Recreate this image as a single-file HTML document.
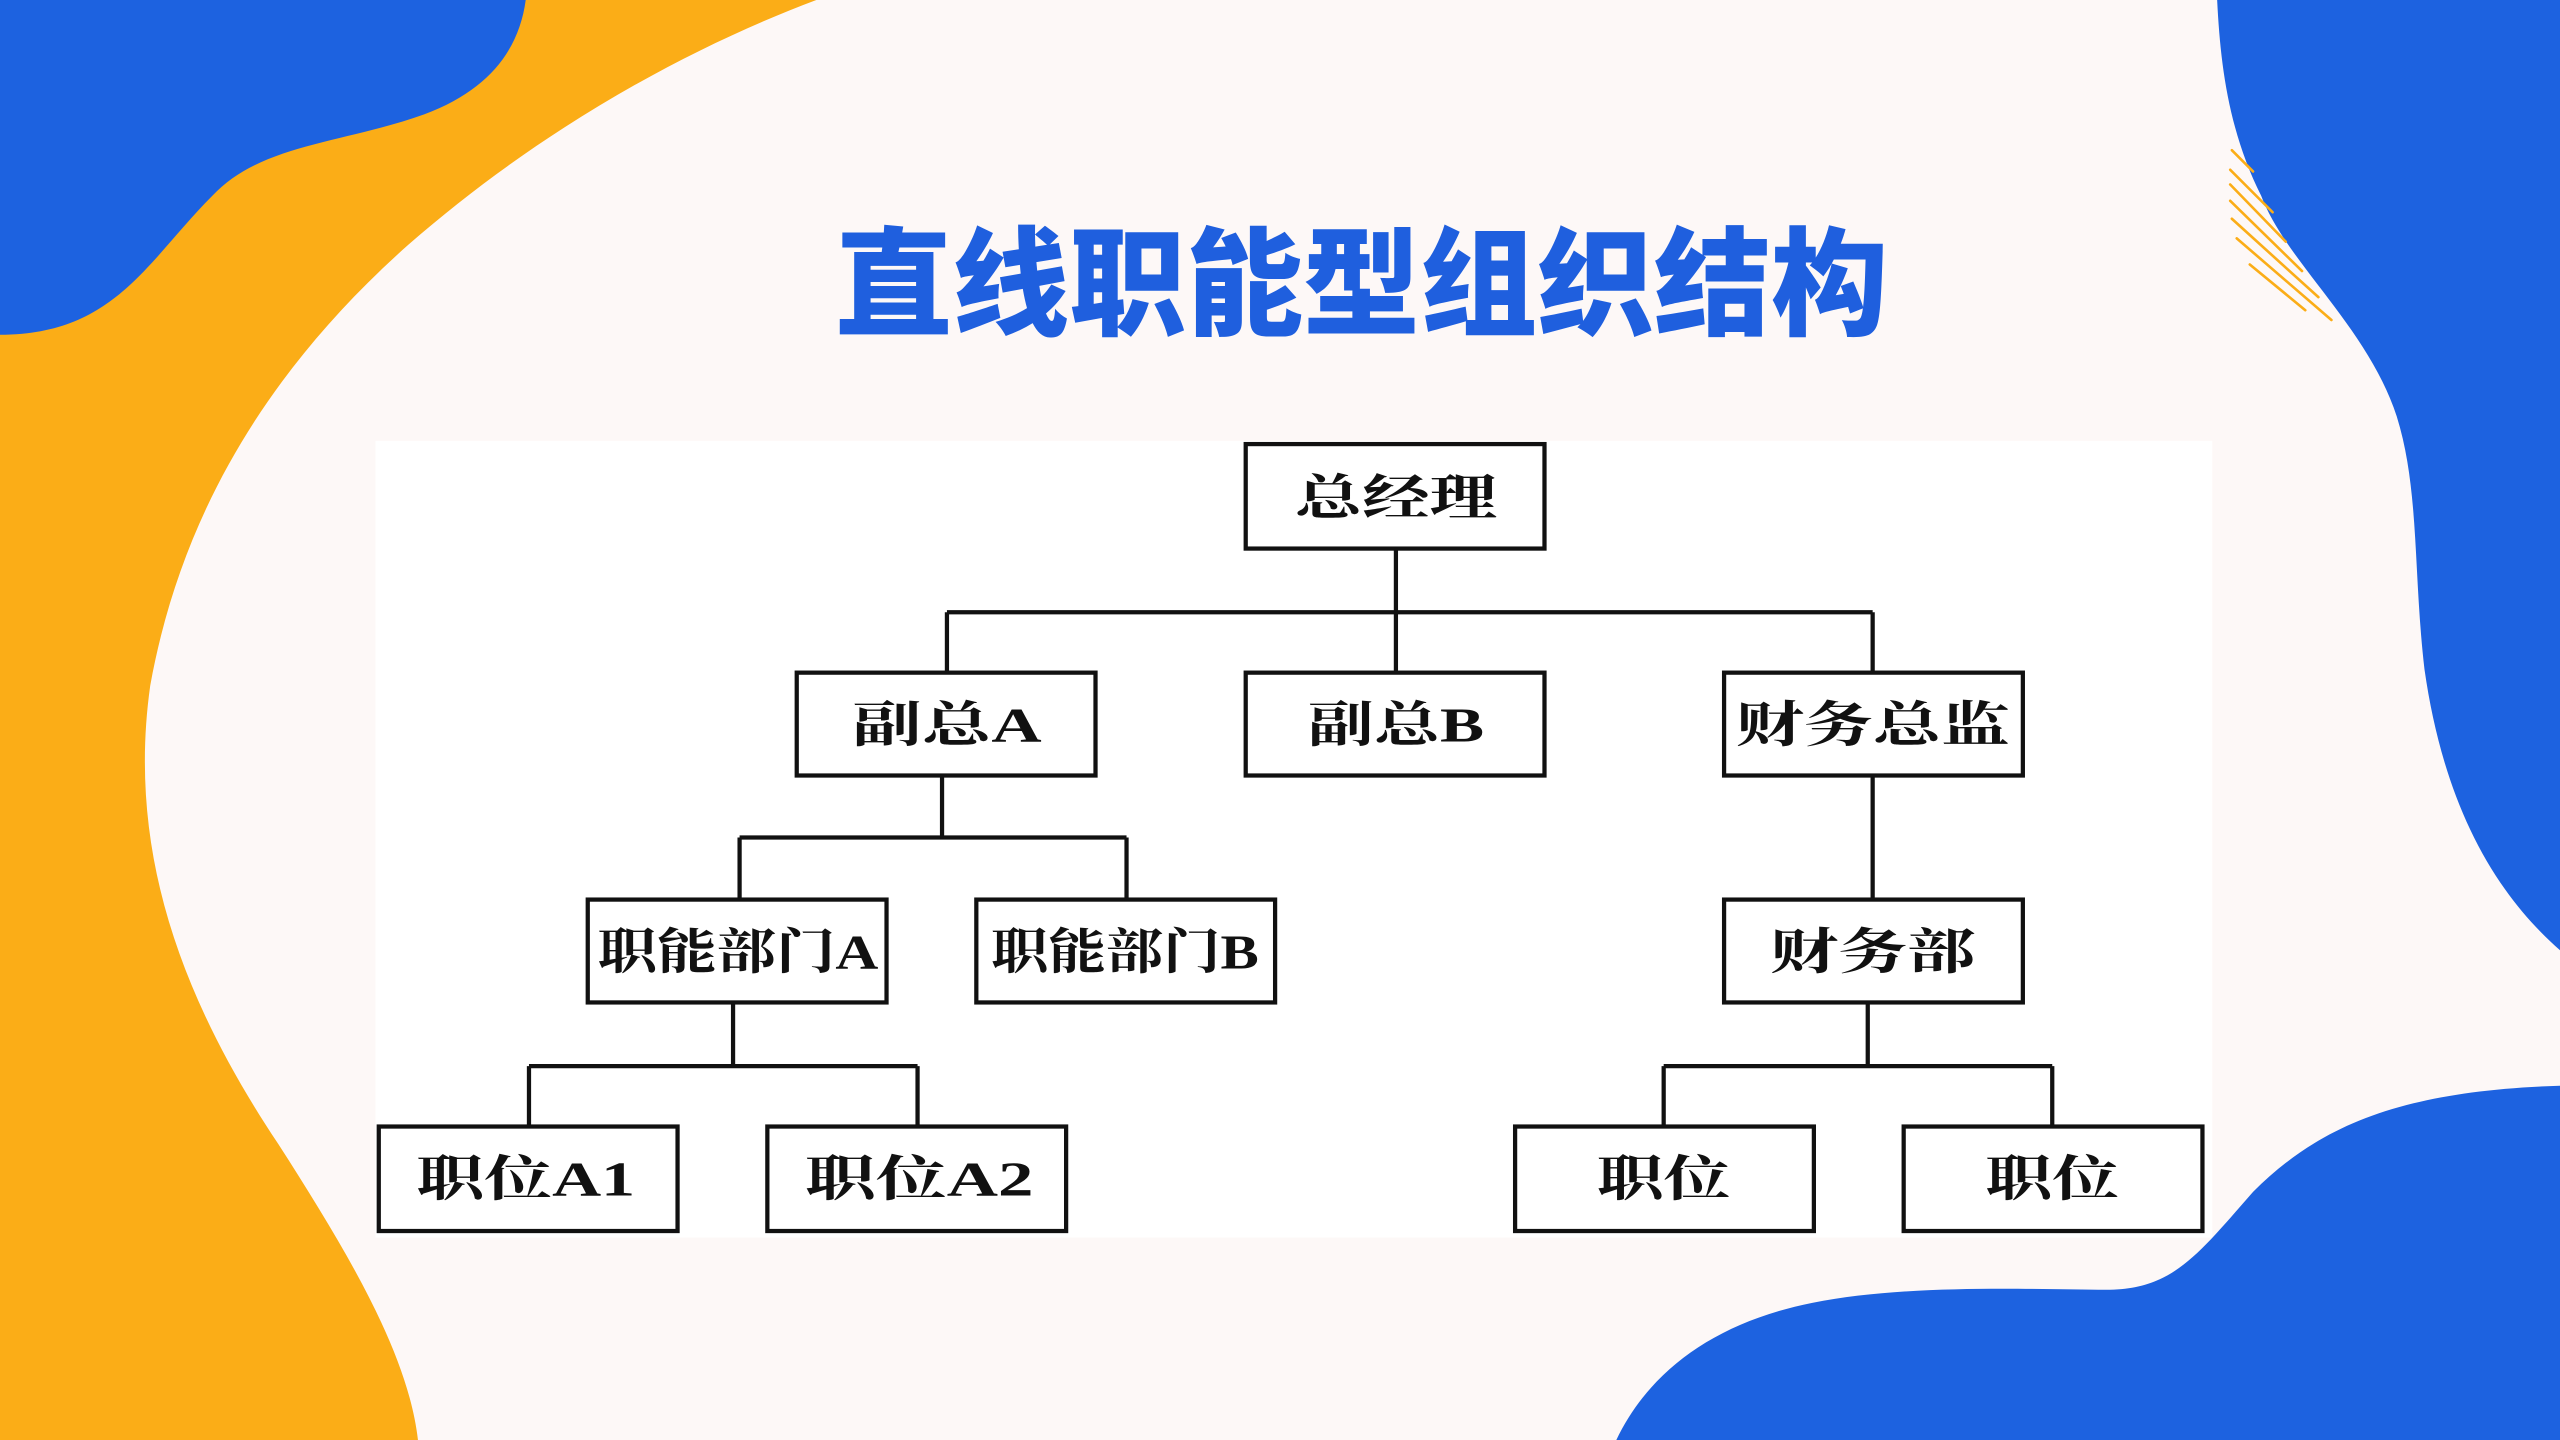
<!DOCTYPE html>
<html><head><meta charset="utf-8">
<style>
html,body{margin:0;padding:0;width:2560px;height:1440px;overflow:hidden;background:#fdf8f7;}
svg{display:block}
.b{fill:#fff;stroke:#111;stroke-width:2.6}
.l{stroke:#111;stroke-width:2.6;fill:none}
.t{font-family:"Liberation Serif","Noto Serif CJK SC","Noto Sans CJK SC",serif;font-weight:bold;font-size:30px;fill:#111;text-anchor:middle;dominant-baseline:central}
</style></head><body>
<svg width="2560" height="1440" viewBox="0 0 1568 882" preserveAspectRatio="none">
<rect width="1568" height="882" fill="#fdf8f7"/>
<!-- orange left -->
<path d="M0,0 L500,0 C420,30 330,80 250,150 C160,230 110,320 92,420 C78,520 110,610 170,700 C215,770 250,830 256,882 L0,882 Z" fill="#fbad17"/>
<!-- blue top-left -->
<path d="M0,0 L322,0 C318,30 300,55 260,70 C210,88 160,88 130,120 C90,160 70,205 0,205 Z" fill="#1d62e0"/>
<!-- blue right -->
<path d="M1358,0 L1568,0 L1568,582 C1520,540 1495,480 1485,410 C1478,350 1482,300 1468,255 C1450,200 1400,160 1385,120 C1365,80 1360,40 1358,0 Z" fill="#1d62e0"/>
<!-- hatch -->
<g stroke="#fbad17" stroke-width="1.6" stroke-linecap="round">
<line x1="1367" y1="92" x2="1380" y2="105"/>
<line x1="1366" y1="104" x2="1392" y2="130"/>
<line x1="1366" y1="113" x2="1400" y2="148"/>
<line x1="1366" y1="123" x2="1410" y2="166"/>
<line x1="1367" y1="134" x2="1420" y2="182"/>
<line x1="1370" y1="146" x2="1428" y2="196"/>
<line x1="1378" y1="162" x2="1412" y2="190"/>
</g>
<!-- blue bottom-right -->
<path d="M990,882 C1010,840 1050,810 1110,798 C1170,786 1250,790 1290,790 C1330,790 1345,770 1380,730 C1420,690 1470,668 1568,665 L1568,882 Z" fill="#1d62e0"/>
<!-- title -->
<text x="834" y="175" text-anchor="middle" dominant-baseline="central" font-family="'Liberation Sans','Noto Sans CJK SC',sans-serif" font-weight="900" font-size="72" fill="#1f5fde" textLength="645" lengthAdjust="spacingAndGlyphs">直线职能型组织结构</text>
<!-- panel -->
<rect x="230" y="270" width="1125" height="488" fill="#fff"/>
<!-- connectors -->
<path class="l" d="M855,336 V412 M580,375 H1147 M580,375 V412 M1147,375 V412
M577,475 V513 M453,513 H690 M453,513 V551 M690,513 V551
M1147,475 V551
M449,614 V653 M324,653 H562 M324,653 V690 M562,653 V690
M1144,614 V653 M1019,653 H1257 M1019,653 V690 M1257,653 V690"/>
<!-- boxes -->
<rect class="b" x="763" y="272" width="183" height="64"/>
<rect class="b" x="488" y="412" width="183" height="63"/>
<rect class="b" x="763" y="412" width="183" height="63"/>
<rect class="b" x="1056" y="412" width="183" height="63"/>
<rect class="b" x="360" y="551" width="183" height="63"/>
<rect class="b" x="598" y="551" width="183" height="63"/>
<rect class="b" x="1056" y="551" width="183" height="63"/>
<rect class="b" x="232" y="690" width="183" height="64"/>
<rect class="b" x="470" y="690" width="183" height="64"/>
<rect class="b" x="928" y="690" width="183" height="64"/>
<rect class="b" x="1166" y="690" width="183" height="64"/>
<!-- labels -->
<text class="t" x="855" y="305" textLength="124" lengthAdjust="spacingAndGlyphs">总经理</text>
<text class="t" x="580" y="444" textLength="116" lengthAdjust="spacingAndGlyphs">副总A</text>
<text class="t" x="855" y="444" textLength="108" lengthAdjust="spacingAndGlyphs">副总B</text>
<text class="t" x="1147" y="444" textLength="168" lengthAdjust="spacingAndGlyphs">财务总监</text>
<text class="t" x="452" y="583" textLength="172" lengthAdjust="spacingAndGlyphs">职能部门A</text>
<text class="t" x="689" y="583" textLength="164" lengthAdjust="spacingAndGlyphs">职能部门B</text>
<text class="t" x="1147" y="583" textLength="126" lengthAdjust="spacingAndGlyphs">财务部</text>
<text class="t" x="322" y="722" textLength="134" lengthAdjust="spacingAndGlyphs">职位A1</text>
<text class="t" x="563" y="722" textLength="140" lengthAdjust="spacingAndGlyphs">职位A2</text>
<text class="t" x="1019" y="722" textLength="82" lengthAdjust="spacingAndGlyphs">职位</text>
<text class="t" x="1257" y="722" textLength="82" lengthAdjust="spacingAndGlyphs">职位</text>
</svg>
</body></html>
